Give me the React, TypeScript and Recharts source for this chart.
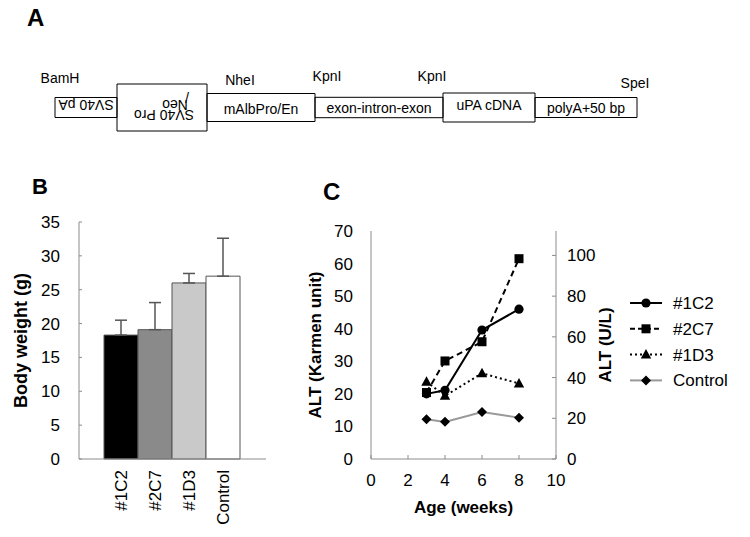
import React from 'react';
import {
  ComposedChart,
  BarChart,
  Bar,
  Cell,
  ErrorBar,
  XAxis,
  YAxis,
  LineChart,
  Line,
  Legend,
  ReferenceArea,
  Scatter,
} from 'recharts';

const FONT = '"Liberation Sans", Arial, Helvetica, sans-serif';

// ---------- Panel A data (construct map) ----------
const constructParts = ['SV40 pA', 'SV40 Pro/Neo', 'mAlbPro/En', 'exon-intron-exon', 'uPA cDNA', 'polyA+50 bp'];
const partLengths = [62, 90, 108, 128, 92, 102];
const restrictionSites = ['BamH', 'NheI', 'KpnI', 'KpnI', 'SpeI'];
const sitePositions = [5, 185, 272, 377, 580];

// ---------- Panel B data ----------
const mouseLines = ['#1C2', '#2C7', '#1D3', 'Control'];
const bodyWeight = [18.3, 19.1, 26.0, 27.0];
const bodyWeightSD = [2.2, 4.0, 1.4, 5.6];
const weightTicks = [0, 5, 10, 15, 20, 25, 30, 35];

// ---------- Panel C data ----------
const ageWeeks = [3, 4, 6, 8];
const alt1C2 = [20.0, 21.1, 39.6, 46.0];
const alt2C7 = [20.4, 30.1, 36.0, 61.5];
const alt1D3 = [23.7, 19.4, 26.3, 23.2];
const altControl = [12.2, 11.4, 14.4, 12.7];
const ageTicks = [0, 2, 4, 6, 8, 10];
const karmenTicks = [0, 10, 20, 30, 40, 50, 60, 70];
const ulTicks = [0, 20, 40, 60, 80, 100];

// ---------- styles ----------
const AXIS_GRAY = '#8c8c8c';
const A_DOMAIN: [number, number] = [-55, 695];
const A_CENTER = 107.5;
const boxHalf = [10, 23.5, 14, 10.2, 14.5, 10];
const partTextDy = [-2.5, 0, 1.5, 0.5, -2, 0.5];
const siteLabelY = [78, 80, 76, 76, 83];
const barFills = ['#000000', '#8a8a8a', '#c9c9c9', '#ffffff'];

const seriesStyles = [
  { key: 's1C2', stroke: '#000', dash: undefined as string | undefined, legendDash: undefined as string | undefined, marker: 'circle' },
  { key: 's2C7', stroke: '#000', dash: '6 4', legendDash: '5 3', marker: 'square' },
  { key: 's1D3', stroke: '#000', dash: '2 3', legendDash: '2 3', marker: 'triangle' },
  { key: 'sCtrl', stroke: '#999', dash: undefined, legendDash: undefined, marker: 'diamond' },
];

// ---------- derived tables ----------
const partStarts = partLengths.map((_, i) => partLengths.slice(0, i).reduce((a, b) => a + b, 0));
const partLabelData = constructParts.map((name, i) => ({
  x: partStarts[i] + partLengths[i] / 2,
  y: A_CENTER,
  name,
  i,
}));
const siteData = restrictionSites.map((name, i) => ({ x: sitePositions[i], y: siteLabelY[i], name }));

const barData = mouseLines.map((name, i) => ({
  name,
  weight: bodyWeight[i],
  err: [0, bodyWeightSD[i]],
}));

const altData = ageWeeks.map((w, i) => ({
  week: w,
  s1C2: alt1C2[i],
  s2C7: alt2C7[i],
  s1D3: alt1D3[i],
  sCtrl: altControl[i],
}));

// ---------- small components ----------
const PartLabel = (p: any) => {
  const { cx, cy, payload } = p;
  const i = payload.i;
  const common = { fontSize: 14, fontFamily: FONT, fill: '#000', textAnchor: 'middle' as const };
  if (i === 0) {
    const y = cy + partTextDy[i];
    return (
      <text {...common} x={cx} y={y} dy="0.35em" transform={`rotate(180 ${cx} ${y})`}>
        SV40 pA
      </text>
    );
  }
  if (i === 1) {
    const parts = [
      { t: 'SV40 Pro', dx: 2, dy: 7.5 },
      { t: 'Neo', dx: 13, dy: -2.5 },
      { t: '/', dx: 25, dy: -10.5 },
    ];
    return (
      <g>
        {parts.map((q, k) => (
          <text
            key={k}
            {...common}
            x={cx + q.dx}
            y={cy + q.dy}
            dy="0.35em"
            transform={`rotate(180 ${cx + q.dx} ${cy + q.dy})`}
          >
            {q.t}
          </text>
        ))}
      </g>
    );
  }
  return (
    <text {...common} x={cx} y={cy + partTextDy[i]} dy="0.35em">
      {payload.name}
    </text>
  );
};

const SiteLabel = (p: any) => {
  const { cx, cy, payload } = p;
  return (
    <text x={cx} y={cy} dy="0.35em" textAnchor="middle" fontSize={14} fontFamily={FONT} fill="#000">
      {payload.name}
    </text>
  );
};

const RotTick = (p: any) => {
  const { x, y, payload } = p;
  return (
    <text
      x={x}
      y={y}
      dy="0.35em"
      textAnchor="end"
      transform={`rotate(-90 ${x} ${y})`}
      fontSize={17}
      fontFamily={FONT}
      fill="#000"
    >
      {payload.value}
    </text>
  );
};

const AxisTitle = (p: any) => {
  const vb = p.viewBox || { x: 0, y: 0, width: 0, height: 0 };
  const { text, mode, off, size } = p;
  let x = 0;
  let y = 0;
  let transform: string | undefined;
  if (mode === 'bottom') {
    x = vb.x + vb.width / 2;
    y = vb.y + off;
  } else {
    x = vb.x + off;
    y = vb.y + vb.height / 2;
    transform = `rotate(-90 ${x} ${y})`;
  }
  return (
    <text
      x={x}
      y={y}
      dy="0.35em"
      textAnchor="middle"
      transform={transform}
      fontSize={size}
      fontWeight="bold"
      fontFamily={FONT}
      fill="#000"
    >
      {text}
    </text>
  );
};

const Marker = ({ cx, cy, kind }: { cx: number; cy: number; kind: string }) => {
  if (kind === 'circle') return <circle cx={cx} cy={cy} r={4.6} fill="#000" />;
  if (kind === 'square') return <rect x={cx - 4.5} y={cy - 4.5} width={9} height={9} fill="#000" />;
  if (kind === 'triangle')
    return <polygon points={`${cx},${cy - 5.5} ${cx + 5.2},${cy + 4} ${cx - 5.2},${cy + 4}`} fill="#000" />;
  return <polygon points={`${cx},${cy - 5} ${cx + 5},${cy} ${cx},${cy + 5} ${cx - 5},${cy}`} fill="#000" />;
};

const AltLegend = () => (
  <svg width={120} height={110} style={{ display: 'block' }}>
    {seriesStyles.map((s, i) => {
      const y = 13 + i * 25.8;
      return (
        <g key={s.key}>
          <line x1={2} x2={34} y1={y} y2={y} stroke={s.stroke} strokeWidth={2} strokeDasharray={s.legendDash} />
          <Marker cx={18} cy={y} kind={s.marker} />
          <text x={45} y={y} dy="0.35em" fontSize={17} fontFamily={FONT} fill="#000">
            {mouseLines[i]}
          </text>
        </g>
      );
    })}
  </svg>
);

const tickStyle = { fontSize: 17, fill: '#000', fontFamily: FONT };

export default function App() {
  return (
    <div
      style={{
        position: 'absolute',
        left: 0,
        top: 0,
        width: 750,
        height: 537,
        background: '#fff',
        fontFamily: FONT,
        overflow: 'hidden',
      }}
    >
      {/* Panel A: construct map */}
      <div style={{ position: 'absolute', left: 0, top: 0 }}>
        <ComposedChart width={750} height={140} margin={{ top: 0, right: 0, bottom: 0, left: 0 }} data={partLabelData}>
          <XAxis type="number" dataKey="x" domain={A_DOMAIN} hide allowDataOverflow />
          <YAxis type="number" dataKey="y" domain={[0, 140]} reversed hide allowDataOverflow />
          {constructParts.map((name, i) => (
            <ReferenceArea
              key={name}
              x1={partStarts[i]}
              x2={partStarts[i] + partLengths[i]}
              y1={A_CENTER - boxHalf[i]}
              y2={A_CENTER + boxHalf[i]}
              fill="none"
              fillOpacity={0}
              stroke="#000"
              strokeWidth={1}
              strokeOpacity={1}
              ifOverflow="visible"
            />
          ))}
          <Scatter data={partLabelData} dataKey="y" shape={PartLabel} isAnimationActive={false} />
          <Scatter data={siteData} dataKey="y" shape={SiteLabel} isAnimationActive={false} />
        </ComposedChart>
      </div>

      {/* Panel B: body weight */}
      <div style={{ position: 'absolute', left: 0, top: 160 }}>
        <BarChart
          width={300}
          height={377}
          data={barData}
          margin={{ top: 62, right: 34, left: 0, bottom: 0 }}
          barCategoryGap={0}
          barGap={0}
        >
          <XAxis
            dataKey="name"
            height={78}
            padding={{ left: 25, right: 26 }}
            axisLine={{ stroke: AXIS_GRAY }}
            tickLine={false}
            tickSize={0}
            tickMargin={11}
            interval={0}
            tick={<RotTick />}
          />
          <XAxis
            xAxisId="top"
            orientation="top"
            dataKey="name"
            height={0}
            tick={false}
            tickLine={false}
            axisLine={{ stroke: AXIS_GRAY }}
          />
          <YAxis
            domain={[0, 35]}
            ticks={weightTicks}
            interval={0}
            width={79}
            tickSize={-3}
            tickMargin={22}
            axisLine={{ stroke: AXIS_GRAY }}
            tickLine={{ stroke: AXIS_GRAY }}
            tick={tickStyle}
            label={<AxisTitle text="Body weight (g)" mode="left" off={21} size={18} />}
          />
          <YAxis
            yAxisId="right"
            orientation="right"
            domain={[0, 35]}
            width={0}
            tick={false}
            tickLine={false}
            axisLine={{ stroke: AXIS_GRAY }}
          />
          <Bar dataKey="weight" stroke="#555" strokeWidth={1} isAnimationActive={false}>
            {barData.map((d, i) => (
              <Cell key={d.name} fill={barFills[i]} />
            ))}
            <ErrorBar dataKey="err" width={6} stroke="#555" strokeWidth={1.5} direction="y" />
          </Bar>
        </BarChart>
      </div>

      {/* Panel C: ALT */}
      <div style={{ position: 'absolute', left: 300, top: 160 }}>
        <LineChart width={450} height={377} data={altData} margin={{ top: 71, right: 134, left: 0, bottom: 0 }}>
          <XAxis
            dataKey="week"
            type="number"
            domain={[0, 10]}
            ticks={ageTicks}
            interval={0}
            height={78}
            tickSize={-4}
            tickMargin={19}
            axisLine={{ stroke: AXIS_GRAY }}
            tickLine={{ stroke: AXIS_GRAY }}
            tick={tickStyle}
            label={<AxisTitle text="Age (weeks)" mode="bottom" off={48} size={17} />}
          />
          <XAxis
            xAxisId="top"
            orientation="top"
            dataKey="week"
            type="number"
            domain={[0, 10]}
            height={0}
            tick={false}
            tickLine={false}
            axisLine={{ stroke: AXIS_GRAY }}
          />
          <YAxis
            yAxisId="left"
            domain={[0, 70]}
            ticks={karmenTicks}
            interval={0}
            width={71}
            tickLine={false}
            tickSize={0}
            tickMargin={18}
            axisLine={{ stroke: AXIS_GRAY }}
            tick={tickStyle}
            label={<AxisTitle text="ALT (Karmen unit)" mode="left" off={15.5} size={17} />}
          />
          <YAxis
            yAxisId="right"
            orientation="right"
            domain={[0, 112]}
            ticks={ulTicks}
            interval={0}
            allowDataOverflow
            width={60}
            tickSize={-4}
            tickMargin={15}
            axisLine={{ stroke: AXIS_GRAY }}
            tickLine={{ stroke: AXIS_GRAY }}
            tick={tickStyle}
            label={<AxisTitle text="ALT (U/L)" mode="left" off={49} size={17} />}
          />
          <Legend
            layout="vertical"
            align="center"
            verticalAlign="middle"
            content={<AltLegend />}
            wrapperStyle={{ position: 'absolute', left: 328, top: 130, width: 120, height: 110 }}
          />
          {[3, 2, 1, 0].map((i) => {
            const s = seriesStyles[i];
            return (
              <Line
                key={s.key}
                yAxisId="left"
                dataKey={s.key}
                name={mouseLines[i]}
                stroke={s.stroke}
                strokeWidth={2}
                strokeDasharray={s.dash}
                isAnimationActive={false}
                activeDot={false}
                dot={(dp: any) => <Marker key={`${s.key}-${dp.index}`} cx={dp.cx} cy={dp.cy} kind={s.marker} />}
              />
            );
          })}
        </LineChart>
      </div>

      {/* panel letters */}
      <svg width={750} height={537} style={{ position: 'absolute', left: 0, top: 0, pointerEvents: 'none' }}>
        <text x={27} y={26} fontSize={24} fontWeight="bold" fontFamily={FONT} fill="#000">
          A
        </text>
        <text x={32} y={193.5} fontSize={22} fontWeight="bold" fontFamily={FONT} fill="#000">
          B
        </text>
        <text x={323} y={200} fontSize={24} fontWeight="bold" fontFamily={FONT} fill="#000">
          C
        </text>
      </svg>
    </div>
  );
}
